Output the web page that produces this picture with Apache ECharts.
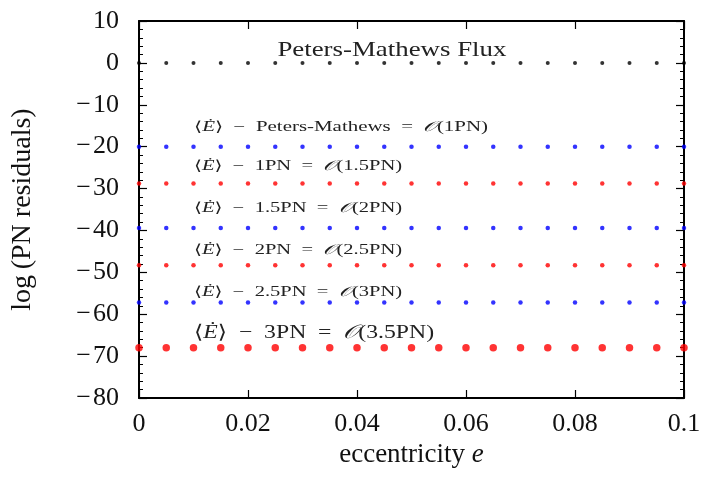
<!DOCTYPE html>
<html>
<head>
<meta charset="utf-8">
<script src="https://cdn.jsdelivr.net/npm/echarts@6/dist/echarts.min.js"></script>
<style>
  html, body { margin: 0; padding: 0; background: #fff; }
  #chart { width: 705px; height: 494px; }
</style>
</head>
<body>
<div id="chart"></div>
<script>
// eccentricity samples
const ecc = [0, 0.005, 0.01, 0.015, 0.02, 0.025, 0.03, 0.035, 0.04, 0.045, 0.05,
  0.055, 0.06, 0.065, 0.07, 0.075, 0.08, 0.085, 0.09, 0.095, 0.1];

// log residuals
const pmFlux = [0, 0, 0, 0, 0, 0, 0, 0, 0, 0, 0, 0, 0, 0, 0, 0, 0, 0, 0, 0, 0];
const res1PN = [-20, -20, -20, -20, -20, -20, -20, -20, -20, -20, -20,
  -20, -20, -20, -20, -20, -20, -20, -20, -20, -20];
const res15PN = [-28.8, -28.8, -28.8, -28.8, -28.8, -28.8, -28.8, -28.8, -28.8, -28.8, -28.8,
  -28.8, -28.8, -28.8, -28.8, -28.8, -28.8, -28.8, -28.8, -28.8, -28.8];
const res2PN = [-39.4, -39.4, -39.4, -39.4, -39.4, -39.4, -39.4, -39.4, -39.4, -39.4, -39.4,
  -39.4, -39.4, -39.4, -39.4, -39.4, -39.4, -39.4, -39.4, -39.4, -39.4];
const res25PN = [-48.3, -48.3, -48.3, -48.3, -48.3, -48.3, -48.3, -48.3, -48.3, -48.3, -48.3,
  -48.3, -48.3, -48.3, -48.3, -48.3, -48.3, -48.3, -48.3, -48.3, -48.3];
const res3PN = [-57.2, -57.2, -57.2, -57.2, -57.2, -57.2, -57.2, -57.2, -57.2, -57.2, -57.2,
  -57.2, -57.2, -57.2, -57.2, -57.2, -57.2, -57.2, -57.2, -57.2, -57.2];
const res35PN = [-68, -68, -68, -68, -68, -68, -68, -68, -68, -68, -68,
  -68, -68, -68, -68, -68, -68, -68, -68, -68, -68];

const xTicks = [0, 0.02, 0.04, 0.06, 0.08, 0.1];

const SERIF = "'Liberation Serif', 'DejaVu Serif', serif";
const fmtY = (v) => (v < 0 ? "\u2212\u200a" + Math.abs(v) : String(v));

const zip = (ys) => ecc.map((x, i) => [x, ys[i]]);

const chart = echarts.init(document.getElementById("chart"), null, { renderer: "canvas" });

const baseX = {
  type: "value",
  min: 0,
  max: 0.1,
  interval: 0.02,
  axisLine: { show: true, onZero: false, lineStyle: { color: "#000", width: 2 } },
  axisTick: { show: true, inside: true, length: 8, lineStyle: { color: "#000", width: 1.2 } },
  splitLine: { show: false },
};
const baseY = {
  type: "value",
  min: -80,
  max: 10,
  interval: 10,
  axisLine: { show: true, onZero: false, lineStyle: { color: "#000", width: 2 } },
  axisTick: { show: true, inside: true, length: 8, lineStyle: { color: "#000", width: 1.2 } },
  minorTick: { show: true, splitNumber: 5, length: 4, lineStyle: { color: "#000", width: 1 } },
  splitLine: { show: false },
};

const dots = (name, data, color, size) => ({
  name,
  type: "scatter",
  data: zip(data),
  symbol: "circle",
  symbolSize: size,
  itemStyle: { color },
  silent: true,
  clip: false,
});

chart.setOption({
  animation: false,
  backgroundColor: "#fff",
  grid: { left: 139, right: 21, top: 21, bottom: 96, containLabel: false },
  xAxis: [
    Object.assign({}, baseX, {
      position: "bottom",
      name: "eccentricity {it|e}",
      nameLocation: "middle",
      nameGap: 43,
      nameTextStyle: {
        fontFamily: SERIF, fontSize: 27, color: "#111",
        rich: { it: { fontFamily: SERIF, fontSize: 27, fontStyle: "italic", color: "#111" } },
      },
      axisLabel: {
        margin: 13,
        fontFamily: SERIF,
        fontSize: 26,
        color: "#111",
        customValues: xTicks,
      },
    }),
    Object.assign({}, baseX, { position: "top", axisLabel: { show: false } }),
  ],
  yAxis: [
    Object.assign({}, baseY, {
      position: "left",
      name: "log\u2009(PN residuals)",
      nameLocation: "middle",
      nameGap: 102,
      nameTextStyle: { fontFamily: SERIF, fontSize: 28, color: "#111" },
      axisLabel: {
        margin: 20,
        fontFamily: SERIF,
        fontSize: 26,
        color: "#111",
        formatter: fmtY,
      },
    }),
    Object.assign({}, baseY, { position: "right", axisLabel: { show: false } }),
  ],
  series: [
    dots("Peters-Mathews", pmFlux, "#000000", 4),
    dots("1PN", res1PN, "#0000ff", 4.5),
    dots("1.5PN", res15PN, "#ff0000", 4.5),
    dots("2PN", res2PN, "#0000ff", 4.5),
    dots("2.5PN", res25PN, "#ff0000", 4.5),
    dots("3PN", res3PN, "#0000ff", 4.5),
    dots("3.5PN", res35PN, "#ff0000", 7.5),
  ],
});

// measure rich text so the LaTeX-like labels can be stretched to their width
const ctx = document.createElement("canvas").getContext("2d");
function measure(body, size) {
  let w = 0;
  body.replace(/\{(\w+)\|([^}]*)\}/g, (_, k, s) => {
    ctx.font = (k === "it" ? "italic " : "") + size + "px " + SERIF;
    w += ctx.measureText(s).width;
    return "";
  });
  return w;
}

const EB = "{m|\u27E8}{it|\u0116}{m|\u27E9\u2002\u2212\u2002";
const OB = "\u2002=\u2002}{it|\ud835\udcaa}{m|";
const notes = [
  { x: 0.0464, y: 3.0, body: "{m|Peters-Mathews Flux}", size: 22, width: 229, align: "center" },
  { x: 0.0101, y: -15.3, body: EB + "Peters-Mathews" + OB + "(1PN)}", size: 14, width: 294, align: "left" },
  { x: 0.0101, y: -24.8, body: EB + "1PN" + OB + "(1.5PN)}", size: 14, width: 208, align: "left" },
  { x: 0.0101, y: -34.8, body: EB + "1.5PN" + OB + "(2PN)}", size: 14, width: 208, align: "left" },
  { x: 0.0101, y: -44.8, body: EB + "2PN" + OB + "(2.5PN)}", size: 14, width: 208, align: "left" },
  { x: 0.0101, y: -54.8, body: EB + "2.5PN" + OB + "(3PN)}", size: 14, width: 208, align: "left" },
  { x: 0.0101, y: -64.6, body: EB + "3PN" + OB + "(3.5PN)}", size: 19, width: 240, align: "left" },
];

const at = (x, y) => chart.convertToPixel({ gridIndex: 0 }, [x, y]);

chart.setOption({
  graphic: notes.map((n) => {
    const p = at(n.x, n.y);
    return {
      type: "text",
      x: p[0],
      y: p[1],
      scaleX: n.width / measure(n.body, n.size),
      silent: true,
      style: {
        text: n.body,
        rich: {
          m: { fontFamily: SERIF, fontSize: n.size, fill: "#222" },
          it: { fontFamily: SERIF, fontSize: n.size, fontStyle: "italic", fill: "#222" },
        },
        fontFamily: SERIF,
        fontSize: n.size,
        fill: "#222",
        align: n.align,
        verticalAlign: "middle",
      },
    };
  }),
});

window.addEventListener("resize", () => chart.resize());
</script>
</body>
</html>
